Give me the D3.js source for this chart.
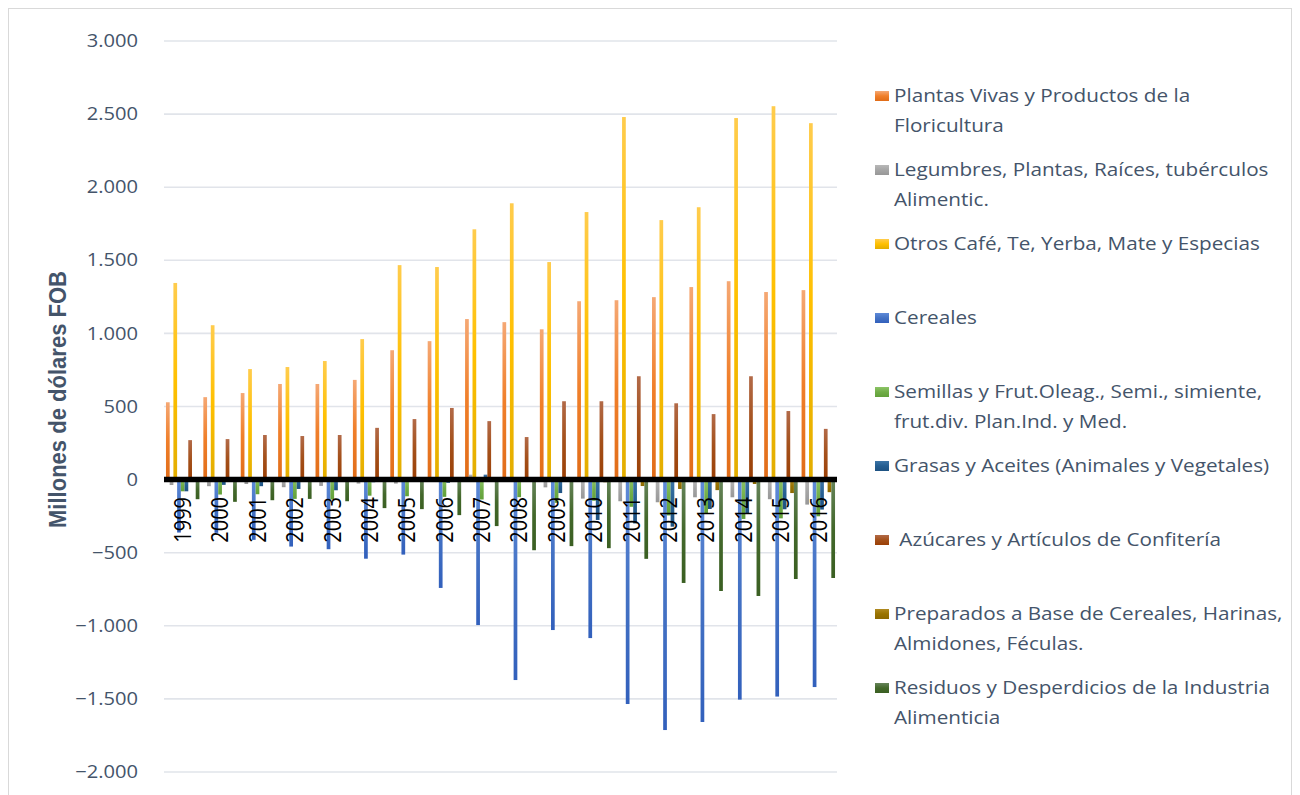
<!DOCTYPE html>
<html>
<head>
<meta charset="utf-8">
<script src="https://cdn.jsdelivr.net/npm/d3@7"></script>
<style>
  html, body { margin: 0; padding: 0; background: #ffffff; }
  svg { display: block; }
</style>
</head>
<body>
<svg id="chart" width="1300" height="795"></svg>
<script>
// Exportaciones / importaciones netas por capítulo, millones de dólares FOB
const years = ["1999","2000","2001","2002","2003","2004","2005","2006","2007",
               "2008","2009","2010","2011","2012","2013","2014","2015","2016"];

const plantas    = [529, 564, 592, 654, 654, 682, 885, 947, 1098, 1077, 1028, 1220, 1227, 1248, 1317, 1357, 1283, 1296];
const legumbres  = [-37, -45, -30, -52, -43, -27, -27, -10, 34, -5, -53, -130, -148, -155, -121, -121, -134, -171];
const cafe       = [1345, 1056, 756, 770, 811, 961, 1467, 1454, 1712, 1890, 1488, 1830, 2480, 1775, 1863, 2473, 2554, 2438];
const cereales   = [-362, -364, -412, -458, -476, -541, -513, -741, -995, -1371, -1029, -1084, -1535, -1713, -1658, -1505, -1484, -1419];
const semillas   = [-80, -102, -100, -132, -136, -110, -114, -118, -136, -120, -159, -145, -186, -245, -235, -269, -265, -251];
const grasas     = [-80, -36, -45, -64, -73, -18, -16, -22, 34, -8, -92, -276, -300, -322, -201, -232, -203, -205];
const azucares   = [270, 277, 305, 298, 305, 354, 414, 490, 400, 291, 536, 536, 707, 522, 448, 707, 469, 347];
const preparados = [-8, -8, -8, -10, -10, -10, -12, -12, -12, -15, -15, -18, -44, -64, -72, -30, -92, -86];
const residuos   = [-134, -152, -141, -132, -148, -195, -202, -243, -318, -483, -455, -469, -542, -707, -762, -796, -680, -673];

const seriesLabels = [
  ["Plantas Vivas y Productos de la", "Floricultura"],
  ["Legumbres, Plantas, Raíces, tubérculos", "Alimentic."],
  ["Otros Café, Te, Yerba, Mate y Especias"],
  ["Cereales"],
  ["Semillas y Frut.Oleag., Semi., simiente,", "frut.div. Plan.Ind. y Med."],
  ["Grasas y Aceites (Animales y Vegetales)"],
  ["\u00A0Azúcares y Artículos de Confitería"],
  ["Preparados a Base de Cereales, Harinas,", "Almidones, Féculas."],
  ["Residuos y Desperdicios de la Industria", "Alimenticia"]
];

const seriesValues = [plantas, legumbres, cafe, cereales, semillas, grasas, azucares, preparados, residuos];

// light tint, base, darker shade for each series' vertical gradient
const seriesColors = [
  ["#F5A874", "#F07F2A", "#E06C18"],
  ["#B8B8B8", "#A5A5A5", "#979797"],
  ["#FFCC4D", "#FFC000", "#E2AD00"],
  ["#5E8AD8", "#4472C4", "#3260BC"],
  ["#8CC466", "#70AD47", "#62A03A"],
  ["#3C74A6", "#255E91", "#1E5282"],
  ["#B26A48", "#A4501A", "#9A3F05"],
  ["#B08A20", "#997300", "#8C6800"],
  ["#66845A", "#43682B", "#3A5F22"]
];

const yTicks = [3000, 2500, 2000, 1500, 1000, 500, 0, -500, -1000, -1500, -2000];

const fmt = v => d3.format(",")(v).replace(/,/g, ".");

// text in this chart is set slightly wide
const wide = 1.15;

const svg = d3.select("#chart");

// chart frame
svg.append("rect")
  .attr("x", 8.5).attr("y", 8.5)
  .attr("width", 1283).attr("height", 800)
  .attr("fill", "#ffffff")
  .attr("stroke", "#D9D9D9").attr("stroke-width", 1);

const plot = { left: 164, right: 837, top: 41, bottom: 772 };

const y = d3.scaleLinear().domain([-2000, 3000]).range([plot.bottom, plot.top]);
const x0 = d3.scaleBand().domain(years).range([plot.left, plot.right])
  .paddingInner(0.105).paddingOuter(0.0525);
const x1 = d3.scaleBand().domain(d3.range(seriesValues.length)).range([0, x0.bandwidth()]);

// gradients
const defs = svg.append("defs");
seriesColors.forEach((c, i) => {
  const g = defs.append("linearGradient").attr("id", "grad" + i)
    .attr("x1", 0).attr("y1", 0).attr("x2", 0).attr("y2", 1);
  g.append("stop").attr("offset", "0%").attr("stop-color", c[0]);
  g.append("stop").attr("offset", "50%").attr("stop-color", c[1]);
  g.append("stop").attr("offset", "100%").attr("stop-color", c[2]);
});

// gridlines
svg.append("g")
  .selectAll("line")
  .data(yTicks.filter(t => t !== 0))
  .join("line")
  .attr("x1", plot.left).attr("x2", plot.right)
  .attr("y1", d => y(d)).attr("y2", d => y(d))
  .attr("stroke", "#E1E4EA").attr("stroke-width", 1.6);

// y axis labels
const yAxis = d3.axisLeft(y).tickValues(yTicks).tickFormat(fmt).tickSize(0).tickPadding(0);
const yg = svg.append("g").attr("transform", "translate(138,0)").call(yAxis);
yg.select(".domain").remove();
yg.selectAll(".tick text")
  .attr("x", 0)
  .attr("transform", `scale(${wide},1)`)
  .attr("font-family", "'Open Sans', sans-serif")
  .attr("font-size", 17.5)
  .attr("fill", "#44546A");

// axis title
svg.append("text")
  .attr("transform", `translate(66,${(plot.top + plot.bottom) / 2 - 7}) scale(${wide},1) rotate(-90)`)
  .attr("text-anchor", "middle")
  .attr("font-family", "'Liberation Sans Narrow', 'Liberation Sans', sans-serif")
  .attr("font-weight", "bold")
  .attr("font-size", 20.5)
  .attr("textLength", 257)
  .attr("lengthAdjust", "spacingAndGlyphs")
  .attr("fill", "#44546A")
  .text("Millones de dólares FOB");

// bars
const groups = svg.append("g")
  .selectAll("g")
  .data(years)
  .join("g")
  .attr("transform", d => `translate(${x0(d)},0)`);

groups.selectAll("rect")
  .data((d, yi) => seriesValues.map((s, si) => ({ si, v: s[yi] })))
  .join("rect")
  .attr("x", d => x1(d.si))
  .attr("width", x1.bandwidth())
  .attr("y", d => y(Math.max(0, d.v)))
  .attr("height", d => Math.abs(y(d.v) - y(0)))
  .attr("fill", d => `url(#grad${d.si})`);

// zero line
svg.append("line")
  .attr("x1", plot.left).attr("x2", plot.right)
  .attr("y1", y(0)).attr("y2", y(0))
  .attr("stroke", "#000000").attr("stroke-width", 5.5);

// category labels
svg.append("g")
  .selectAll("text")
  .data(years)
  .join("text")
  .attr("transform", d => `translate(${x0(d) + x0.bandwidth() / 2},497) scale(${wide},1) rotate(-90)`)
  .attr("text-anchor", "end")
  .attr("dy", "0.36em")
  .attr("font-family", "'Open Sans', sans-serif")
  .attr("font-size", 20)
  .attr("fill", "#000000")
  .text(d => d);

// legend
const legend = svg.append("g");
seriesLabels.forEach((lines, i) => {
  const cy = 96 + i * 74;
  legend.append("rect")
    .attr("x", 875).attr("y", cy - 5)
    .attr("width", 14).attr("height", 10)
    .attr("fill", `url(#grad${i})`);
  lines.forEach((ln, k) => {
    legend.append("text")
      .attr("transform", `translate(894,${cy + k * 30}) scale(${wide},1)`)
      .attr("dy", "0.35em")
      .attr("font-family", "'Open Sans', sans-serif")
      .attr("font-size", 18)
      .attr("fill", "#44546A")
      .text(ln);
  });
});
</script>
</body>
</html>
